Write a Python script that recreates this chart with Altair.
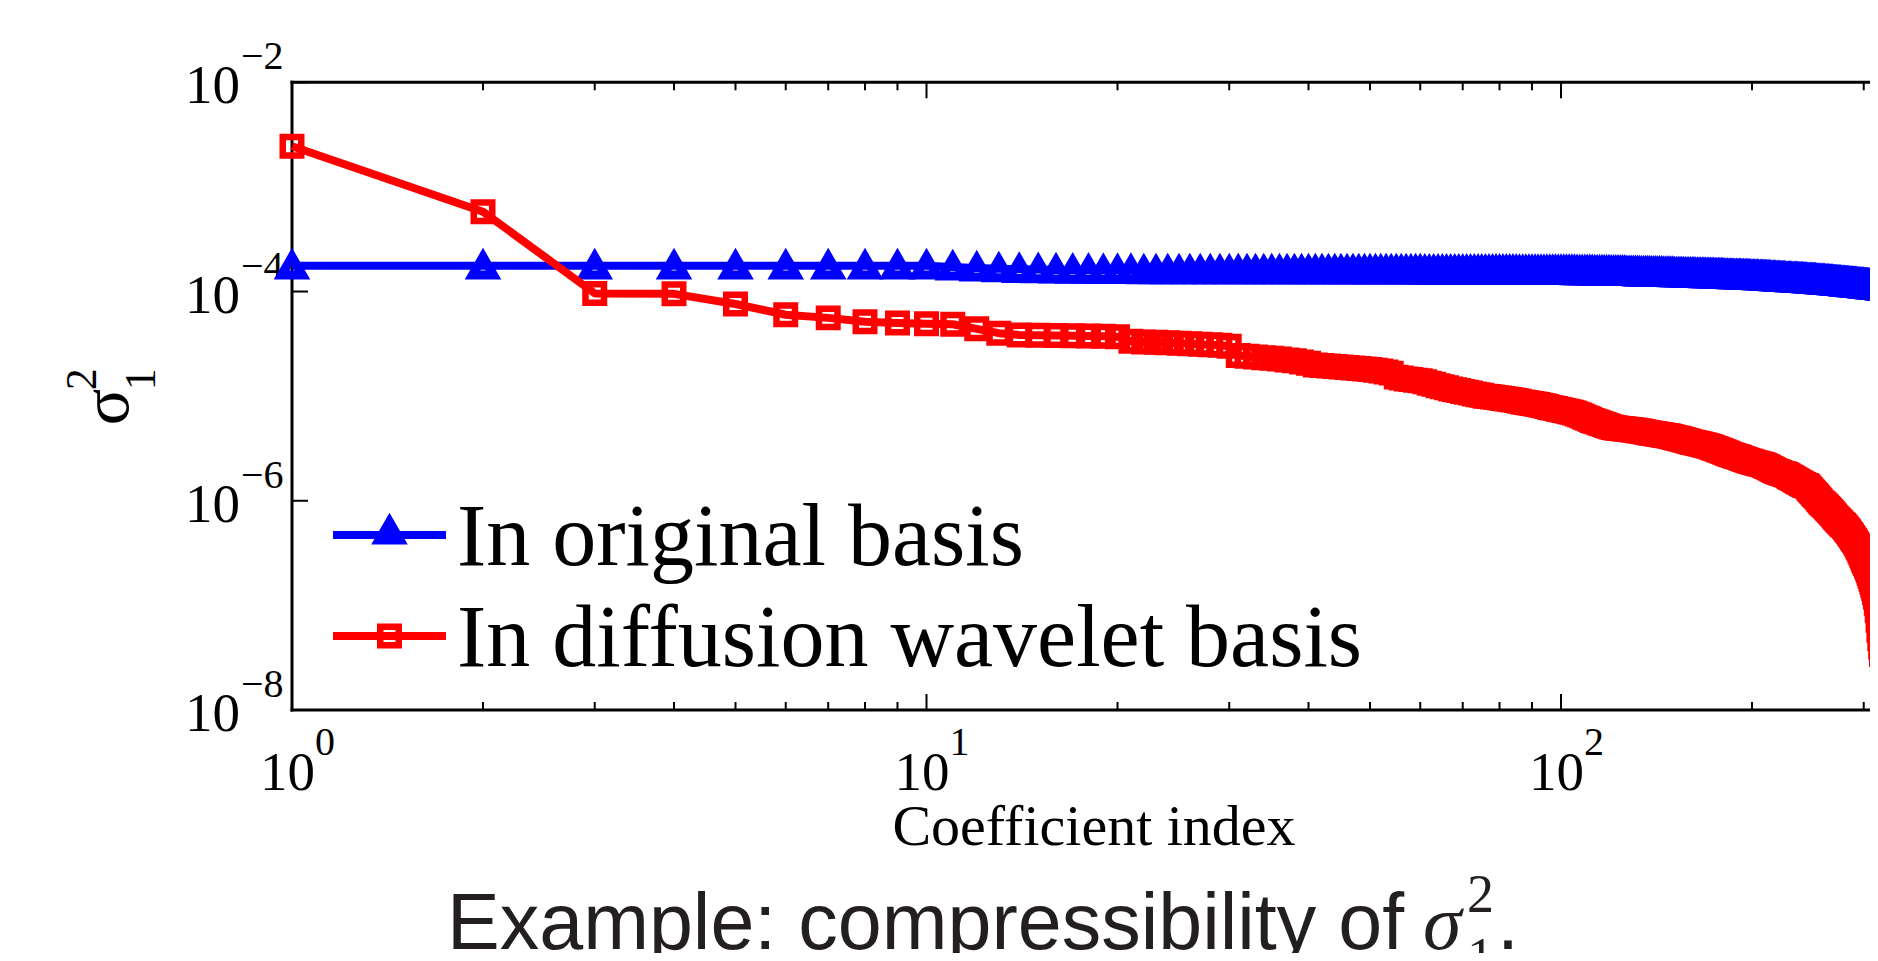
import altair as alt
import pandas as pd

# ---------------- data ----------------
# variance of each coefficient, original basis (blue triangles)
blue_sigma = [
    1.76e-4, 1.76e-4, 1.76e-4, 1.76e-4, 1.76e-4, 1.76e-4, 1.76e-4, 1.76e-4, 1.76e-4, 1.76e-4,
    1.72e-4, 1.68e-4, 1.65e-4, 1.63e-4, 1.62e-4, 1.61e-4, 1.60e-4, 1.60e-4, 1.59e-4, 1.59e-4,
    1.59e-4, 1.58e-4, 1.58e-4, 1.58e-4, 1.58e-4, 1.58e-4, 1.58e-4, 1.58e-4, 1.58e-4, 1.58e-4,
    1.58e-4, 1.58e-4, 1.58e-4, 1.58e-4, 1.58e-4, 1.58e-4, 1.58e-4, 1.58e-4, 1.58e-4, 1.58e-4,
    1.58e-4, 1.58e-4, 1.58e-4, 1.58e-4, 1.58e-4, 1.58e-4, 1.58e-4, 1.58e-4, 1.58e-4, 1.58e-4,
    1.58e-4, 1.58e-4, 1.58e-4, 1.58e-4, 1.58e-4, 1.58e-4, 1.58e-4, 1.58e-4, 1.58e-4, 1.58e-4,
    1.57e-4, 1.57e-4, 1.57e-4, 1.57e-4, 1.57e-4, 1.57e-4, 1.57e-4, 1.57e-4, 1.57e-4, 1.57e-4,
    1.57e-4, 1.57e-4, 1.57e-4, 1.57e-4, 1.57e-4, 1.57e-4, 1.57e-4, 1.57e-4, 1.57e-4, 1.57e-4,
    1.57e-4, 1.57e-4, 1.57e-4, 1.57e-4, 1.57e-4, 1.56e-4, 1.56e-4, 1.56e-4, 1.56e-4, 1.56e-4,
    1.56e-4, 1.56e-4, 1.56e-4, 1.56e-4, 1.56e-4, 1.56e-4, 1.56e-4, 1.56e-4, 1.56e-4, 1.56e-4,
    1.56e-4, 1.56e-4, 1.56e-4, 1.56e-4, 1.56e-4, 1.55e-4, 1.55e-4, 1.55e-4, 1.55e-4, 1.55e-4,
    1.55e-4, 1.55e-4, 1.54e-4, 1.54e-4, 1.54e-4, 1.54e-4, 1.54e-4, 1.54e-4, 1.54e-4, 1.53e-4,
    1.53e-4, 1.53e-4, 1.53e-4, 1.53e-4, 1.53e-4, 1.53e-4, 1.52e-4, 1.52e-4, 1.52e-4, 1.52e-4,
    1.52e-4, 1.52e-4, 1.51e-4, 1.51e-4, 1.51e-4, 1.51e-4, 1.51e-4, 1.51e-4, 1.50e-4, 1.50e-4,
    1.50e-4, 1.50e-4, 1.50e-4, 1.50e-4, 1.49e-4, 1.49e-4, 1.49e-4, 1.49e-4, 1.49e-4, 1.49e-4,
    1.48e-4, 1.48e-4, 1.48e-4, 1.48e-4, 1.48e-4, 1.48e-4, 1.47e-4, 1.47e-4, 1.47e-4, 1.47e-4,
    1.47e-4, 1.47e-4, 1.46e-4, 1.46e-4, 1.46e-4, 1.46e-4, 1.46e-4, 1.46e-4, 1.45e-4, 1.45e-4,
    1.45e-4, 1.45e-4, 1.45e-4, 1.45e-4, 1.44e-4, 1.44e-4, 1.44e-4, 1.44e-4, 1.44e-4, 1.44e-4,
    1.43e-4, 1.43e-4, 1.43e-4, 1.43e-4, 1.43e-4, 1.43e-4, 1.42e-4, 1.42e-4, 1.42e-4, 1.42e-4,
    1.42e-4, 1.42e-4, 1.41e-4, 1.41e-4, 1.41e-4, 1.41e-4, 1.41e-4, 1.41e-4, 1.40e-4, 1.40e-4,
    1.40e-4, 1.40e-4, 1.40e-4, 1.40e-4, 1.39e-4, 1.39e-4, 1.39e-4, 1.39e-4, 1.39e-4, 1.38e-4,
    1.38e-4, 1.38e-4, 1.38e-4, 1.37e-4, 1.37e-4, 1.37e-4, 1.37e-4, 1.36e-4, 1.36e-4, 1.36e-4,
    1.35e-4, 1.35e-4, 1.35e-4, 1.35e-4, 1.35e-4, 1.34e-4, 1.34e-4, 1.34e-4, 1.34e-4, 1.34e-4,
    1.33e-4, 1.33e-4, 1.33e-4, 1.33e-4, 1.33e-4, 1.32e-4, 1.32e-4, 1.32e-4, 1.32e-4, 1.32e-4,
    1.31e-4, 1.31e-4, 1.31e-4, 1.31e-4, 1.30e-4, 1.30e-4, 1.30e-4, 1.30e-4, 1.29e-4, 1.29e-4,
    1.29e-4, 1.29e-4, 1.28e-4, 1.28e-4, 1.28e-4, 1.28e-4, 1.27e-4, 1.27e-4, 1.27e-4, 1.27e-4,
    1.26e-4, 1.26e-4, 1.26e-4, 1.26e-4, 1.25e-4, 1.25e-4, 1.25e-4, 1.25e-4, 1.24e-4, 1.24e-4,
    1.24e-4, 1.24e-4, 1.23e-4, 1.23e-4, 1.23e-4, 1.23e-4, 1.22e-4, 1.22e-4, 1.22e-4, 1.22e-4,
    1.21e-4, 1.21e-4, 1.21e-4, 1.21e-4, 1.20e-4, 1.20e-4, 1.20e-4, 1.20e-4, 1.19e-4, 1.19e-4,
    1.19e-4, 1.19e-4, 1.18e-4, 1.18e-4, 1.18e-4, 1.18e-4, 1.17e-4, 1.17e-4, 1.17e-4, 1.17e-4,
    1.16e-4, 1.16e-4, 1.16e-4, 1.16e-4, 1.15e-4, 1.15e-4, 1.15e-4, 1.15e-4, 1.14e-4, 1.14e-4,
    1.14e-4, 1.14e-4, 1.13e-4, 1.13e-4, 1.13e-4, 1.13e-4, 1.12e-4, 1.12e-4, 1.12e-4, 1.12e-4,
    1.11e-4, 1.11e-4, 1.11e-4, 1.11e-4, 1.10e-4, 1.10e-4, 1.10e-4, 1.10e-4, 1.09e-4, 1.09e-4,
    1.09e-4, 1.09e-4, 1.08e-4, 1.08e-4, 1.08e-4, 1.08e-4, 1.08e-4,
]

# variance of each coefficient, diffusion wavelet basis (red squares)
red_sigma = [
    2.45e-3, 5.8e-4, 9.6e-5, 9.5e-5, 7.6e-5, 6.0e-5, 5.6e-5, 5.15e-5, 5.0e-5, 4.92e-5,
    4.87e-5, 4.4e-5, 4.0e-5, 3.85e-5, 3.82e-5, 3.8e-5, 3.78e-5, 3.76e-5, 3.74e-5, 3.7e-5,
    3.35e-5, 3.3e-5, 3.27e-5, 3.24e-5, 3.2e-5, 3.17e-5, 3.14e-5, 3.1e-5, 3.06e-5, 3.0e-5,
    2.45e-5, 2.41e-5, 2.37e-5, 2.33e-5, 2.3e-5, 2.26e-5, 2.22e-5, 2.18e-5, 2.12e-5, 2.06e-5,
    1.98e-5, 1.96e-5, 1.94e-5, 1.92e-5, 1.9e-5, 1.88e-5, 1.86e-5, 1.84e-5, 1.82e-5, 1.8e-5,
    1.77e-5, 1.74e-5, 1.7e-5, 1.66e-5, 1.52e-5, 1.49e-5, 1.46e-5, 1.44e-5, 1.42e-5, 1.4e-5,
    1.37e-5, 1.33e-5, 1.3e-5, 1.26e-5, 1.23e-5, 1.2e-5, 1.17e-5, 1.15e-5, 1.13e-5, 1.11e-5,
    1.09e-5, 1.07e-5, 1.05e-5, 1.03e-5, 1.02e-5, 1.0e-5, 9.9e-6, 9.8e-6, 9.7e-6, 9.6e-6,
    9.5e-6, 9.4e-6, 9.3e-6, 9.2e-6, 9.1e-6, 8.95e-6, 8.8e-6, 8.7e-6, 8.6e-6, 8.5e-6,
    8.4e-6, 8.3e-6, 8.2e-6, 8.1e-6, 7.95e-6, 7.8e-6, 7.7e-6, 7.6e-6, 7.5e-6, 7.4e-6,
    7.3e-6, 7.2e-6, 7.1e-6, 7.0e-6, 6.9e-6, 6.75e-6, 6.6e-6, 6.45e-6, 6.3e-6, 6.15e-6,
    6.0e-6, 5.85e-6, 5.75e-6, 5.65e-6, 5.55e-6, 5.45e-6, 5.35e-6, 5.25e-6, 5.15e-6, 5.08e-6,
    5.02e-6, 4.97e-6, 4.94e-6, 4.92e-6, 4.89e-6, 4.86e-6, 4.83e-6, 4.8e-6, 4.77e-6, 4.74e-6,
    4.71e-6, 4.68e-6, 4.65e-6, 4.61e-6, 4.57e-6, 4.53e-6, 4.49e-6, 4.45e-6, 4.42e-6, 4.39e-6,
    4.36e-6, 4.33e-6, 4.3e-6, 4.27e-6, 4.24e-6, 4.21e-6, 4.19e-6, 4.15e-6, 4.11e-6, 4.07e-6,
    4.03e-6, 3.99e-6, 3.95e-6, 3.91e-6, 3.87e-6, 3.83e-6, 3.79e-6, 3.75e-6, 3.71e-6, 3.67e-6,
    3.63e-6, 3.6e-6, 3.57e-6, 3.54e-6, 3.51e-6, 3.48e-6, 3.45e-6, 3.42e-6, 3.39e-6, 3.36e-6,
    3.32e-6, 3.28e-6, 3.24e-6, 3.2e-6, 3.16e-6, 3.12e-6, 3.08e-6, 3.04e-6, 3.0e-6, 2.96e-6,
    2.92e-6, 2.88e-6, 2.84e-6, 2.8e-6, 2.77e-6, 2.74e-6, 2.71e-6, 2.68e-6, 2.65e-6, 2.63e-6,
    2.6e-6, 2.57e-6, 2.54e-6, 2.51e-6, 2.48e-6, 2.45e-6, 2.42e-6, 2.4e-6, 2.38e-6, 2.36e-6,
    2.34e-6, 2.32e-6, 2.3e-6, 2.28e-6, 2.26e-6, 2.24e-6, 2.24e-6, 2.22e-6, 2.19e-6, 2.16e-6,
    2.13e-6, 2.1e-6, 2.07e-6, 2.04e-6, 2.01e-6, 1.98e-6, 1.95e-6, 1.92e-6, 1.9e-6, 1.88e-6,
    1.86e-6, 1.84e-6, 1.82e-6, 1.81e-6, 1.8e-6, 1.78e-6, 1.76e-6, 1.73e-6, 1.7e-6, 1.68e-6,
    1.66e-6, 1.63e-6, 1.61e-6, 1.58e-6, 1.56e-6, 1.53e-6, 1.51e-6, 1.49e-6, 1.47e-6, 1.45e-6,
    1.43e-6, 1.41e-6, 1.4e-6, 1.39e-6, 1.36e-6, 1.32e-6, 1.28e-6, 1.24e-6, 1.21e-6, 1.18e-6,
    1.15e-6, 1.12e-6, 1.09e-6, 1.06e-6, 1.03e-6, 1.0e-6, 9.7e-7, 9.5e-7, 9.3e-7, 9.1e-7,
    8.9e-7, 8.7e-7, 8.5e-7, 8.3e-7, 8.1e-7, 7.9e-7, 7.7e-7, 7.5e-7, 7.3e-7, 7.1e-7,
    6.9e-7, 6.75e-7, 6.6e-7, 6.45e-7, 6.3e-7, 6.15e-7, 6.0e-7, 5.9e-7, 5.8e-7, 5.65e-7,
    5.5e-7, 5.35e-7, 5.2e-7, 5.05e-7, 4.9e-7, 4.75e-7, 4.6e-7, 4.45e-7, 4.3e-7, 4.2e-7,
    4.05e-7, 3.9e-7, 3.75e-7, 3.6e-7, 3.45e-7, 3.3e-7, 3.15e-7, 3.0e-7, 2.85e-7, 2.7e-7,
    2.6e-7, 2.5e-7, 2.38e-7, 2.26e-7, 2.14e-7, 2.02e-7, 1.9e-7, 1.78e-7, 1.66e-7, 1.55e-7,
    1.45e-7, 1.32e-7, 1.2e-7, 1.05e-7, 9.0e-8, 7.2e-8, 5.8e-8, 4.8e-8, 4.0e-8, 3.4e-8,
    3.0e-8, 2.7e-8, 2.45e-8, 2.25e-8, 2.1e-8, 1.95e-8, 1.82e-8, 1.7e-8, 1.6e-8, 1.5e-8,
    1.42e-8, 1.35e-8, 1.28e-8, 1.22e-8, 1.16e-8, 1.1e-8, 1.05e-8,
]

series_names = ["In original basis", "In diffusion wavelet basis"]
series_colors = ["#0000ff", "#ff0000"]

x_major = [1, 10, 100]
x_major_exp = ["0", "1", "2"]
x_minor = [2, 3, 4, 5, 6, 7, 8, 9, 20, 30, 40, 50, 60, 70, 80, 90, 200, 300]
y_major = [1e-2, 1e-4, 1e-6, 1e-8]
y_major_exp = ["\u22122", "\u22124", "\u22126", "\u22128"]

x_title = "Coefficient index"
caption_text = "Example: compressibility of"

# ---------------- layout ----------------
# the figure is cut by the right edge of the picture: the visible part of the
# x axis runs from 1 to about 307
W = 1578
H = 627.7
X_MAX = 306.9
SERIF = "Liberation Serif"
SANS = "Liberation Sans"

xs = alt.Scale(type="log", domain=[1, X_MAX], nice=False)
ys = alt.Scale(type="log", domain=[1e-8, 1e-2], nice=False)

blue_df = pd.DataFrame({"i": list(range(1, len(blue_sigma) + 1)), "v": blue_sigma})
red_df = pd.DataFrame({"i": list(range(1, len(red_sigma) + 1)), "v": red_sigma})
xmaj_df = pd.DataFrame({"t": x_major, "e": x_major_exp})
xmin_df = pd.DataFrame({"t": x_minor})
ymaj_df = pd.DataFrame({"t": y_major, "e": y_major_exp})
one = pd.DataFrame({"k": [0]})


def X(f):
    return alt.X(f, scale=xs, axis=None)


def Y(f):
    return alt.Y(f, scale=ys, axis=None)


layers = []

# frame (top, bottom, left)
for enc in (dict(x=alt.value(0), x2=alt.value(W + 10), y=alt.value(0)),
            dict(x=alt.value(0), x2=alt.value(W + 10), y=alt.value(H)),
            dict(x=alt.value(0), y=alt.value(0), y2=alt.value(H))):
    layers.append(alt.Chart(one).mark_rule(color="black", strokeWidth=3, strokeCap="square").encode(**enc))

# inward ticks
for df, ln in ((xmaj_df, 16), (xmin_df, 8)):
    layers.append(alt.Chart(df).mark_rule(color="black", strokeWidth=2).encode(
        x=X("t:Q"), y=alt.value(H), y2=alt.value(H - ln)))
    layers.append(alt.Chart(df).mark_rule(color="black", strokeWidth=2).encode(
        x=X("t:Q"), y=alt.value(0), y2=alt.value(ln)))
layers.append(alt.Chart(ymaj_df).mark_rule(color="black", strokeWidth=2).encode(
    y=Y("t:Q"), x=alt.value(0), x2=alt.value(16)))

# tick labels: 10 with raised exponent
layers.append(alt.Chart(xmaj_df).mark_text(text="10", font=SERIF, fontSize=55, align="right",
                                           baseline="alphabetic", dx=23, color="black").encode(
    x=X("t:Q"), y=alt.value(H + 80)))
layers.append(alt.Chart(xmaj_df).mark_text(font=SERIF, fontSize=40, align="left",
                                           baseline="alphabetic", dx=23, color="black").encode(
    x=X("t:Q"), y=alt.value(H + 45), text="e:N"))
layers.append(alt.Chart(ymaj_df).mark_text(text="10", font=SERIF, fontSize=55, align="right",
                                           baseline="alphabetic", dy=21, color="black").encode(
    y=Y("t:Q"), x=alt.value(-52)))
layers.append(alt.Chart(ymaj_df).mark_text(font=SERIF, fontSize=40, align="left",
                                           baseline="alphabetic", dy=-13, color="black").encode(
    y=Y("t:Q"), x=alt.value(-51), text="e:N"))

# axis titles
layers.append(alt.Chart(one).mark_text(text=x_title, font=SERIF, fontSize=58, align="center",
                                       baseline="alphabetic", color="black").encode(
    x=alt.value(802), y=alt.value(H + 135)))
layers.append(alt.Chart(one).mark_text(text="\u03c3", font=SERIF, fontSize=68, angle=270, align="left",
                                       baseline="alphabetic", color="black").encode(
    x=alt.value(-164), y=alt.value(343)))
layers.append(alt.Chart(one).mark_text(text="2", font=SERIF, fontSize=44, angle=270, align="left",
                                       baseline="alphabetic", color="black").encode(
    x=alt.value(-196), y=alt.value(308)))
layers.append(alt.Chart(one).mark_text(text="1", font=SERIF, fontSize=44, angle=270, align="left",
                                       baseline="alphabetic", color="black").encode(
    x=alt.value(-137), y=alt.value(308)))

# data: blue then red, markers on top of their line
marker = {"triangle-up": (441, 9), "square": (342, 6.5)}
for df, col, shape in ((blue_df, series_colors[0], "triangle-up"),
                       (red_df, series_colors[1], "square")):
    size, sw = marker[shape]
    layers.append(alt.Chart(df).mark_line(color=col, strokeWidth=8, strokeJoin="round").encode(
        x=X("i:Q"), y=Y("v:Q")))
    layers.append(alt.Chart(df).mark_point(shape=shape, filled=False, color=col, size=size,
                                           strokeWidth=sw, opacity=1).encode(
        x=X("i:Q"), y=Y("v:Q")))

# legend (inside, lower left)
leg_rows = [(452.7, 448.5, "triangle-up"), (553.7, 553.7, "square")]
for k, (ly, my, shape) in enumerate(leg_rows):
    col = series_colors[k]
    size, sw = marker[shape]
    layers.append(alt.Chart(one).mark_rule(color=col, strokeWidth=8).encode(
        x=alt.value(41), x2=alt.value(154), y=alt.value(ly)))
    layers.append(alt.Chart(one).mark_point(shape=shape, filled=False, color=col, size=size,
                                            strokeWidth=sw, opacity=1).encode(
        x=alt.value(97.5), y=alt.value(my)))
    layers.append(alt.Chart(one).mark_text(text=series_names[k], font=SERIF, fontSize=88,
                                           align="left", baseline="alphabetic", color="black").encode(
        x=alt.value(165), y=alt.value(ly + 30)))

# caption below the figure
CAP = "#231f20"
layers.append(alt.Chart(one).mark_text(text=caption_text, font=SANS, fontSize=79, align="left",
                                       baseline="alphabetic", color=CAP).encode(
    x=alt.value(155), y=alt.value(866.7)))
layers.append(alt.Chart(one).mark_text(text="\u03c3", font=SERIF, fontStyle="italic", fontSize=78,
                                       align="left", baseline="alphabetic", color=CAP).encode(
    x=alt.value(1131), y=alt.value(866.7)))
layers.append(alt.Chart(one).mark_text(text="2", font=SERIF, fontSize=54, align="left",
                                       baseline="alphabetic", color=CAP).encode(
    x=alt.value(1175), y=alt.value(830)))
layers.append(alt.Chart(one).mark_text(text="1", font=SERIF, fontSize=54, align="left",
                                       baseline="alphabetic", color=CAP).encode(
    x=alt.value(1175), y=alt.value(893)))
layers.append(alt.Chart(one).mark_text(text=".", font=SANS, fontSize=79, align="left",
                                       baseline="alphabetic", color=CAP).encode(
    x=alt.value(1205), y=alt.value(866.7)))

# whole page: 8 + 1862 + 8 wide, 8 + 945 + 8 tall (no scrolling)
chart = alt.layer(*layers).properties(
    width=W,
    height=H,
    padding={"left": 284, "top": 74.3, "right": 0, "bottom": 243},
    autosize=alt.AutoSizeParams(type="none"),
    background="white",
).configure_view(stroke=None)

chart.save("out.html", embed_options={"renderer": "svg", "actions": False})
